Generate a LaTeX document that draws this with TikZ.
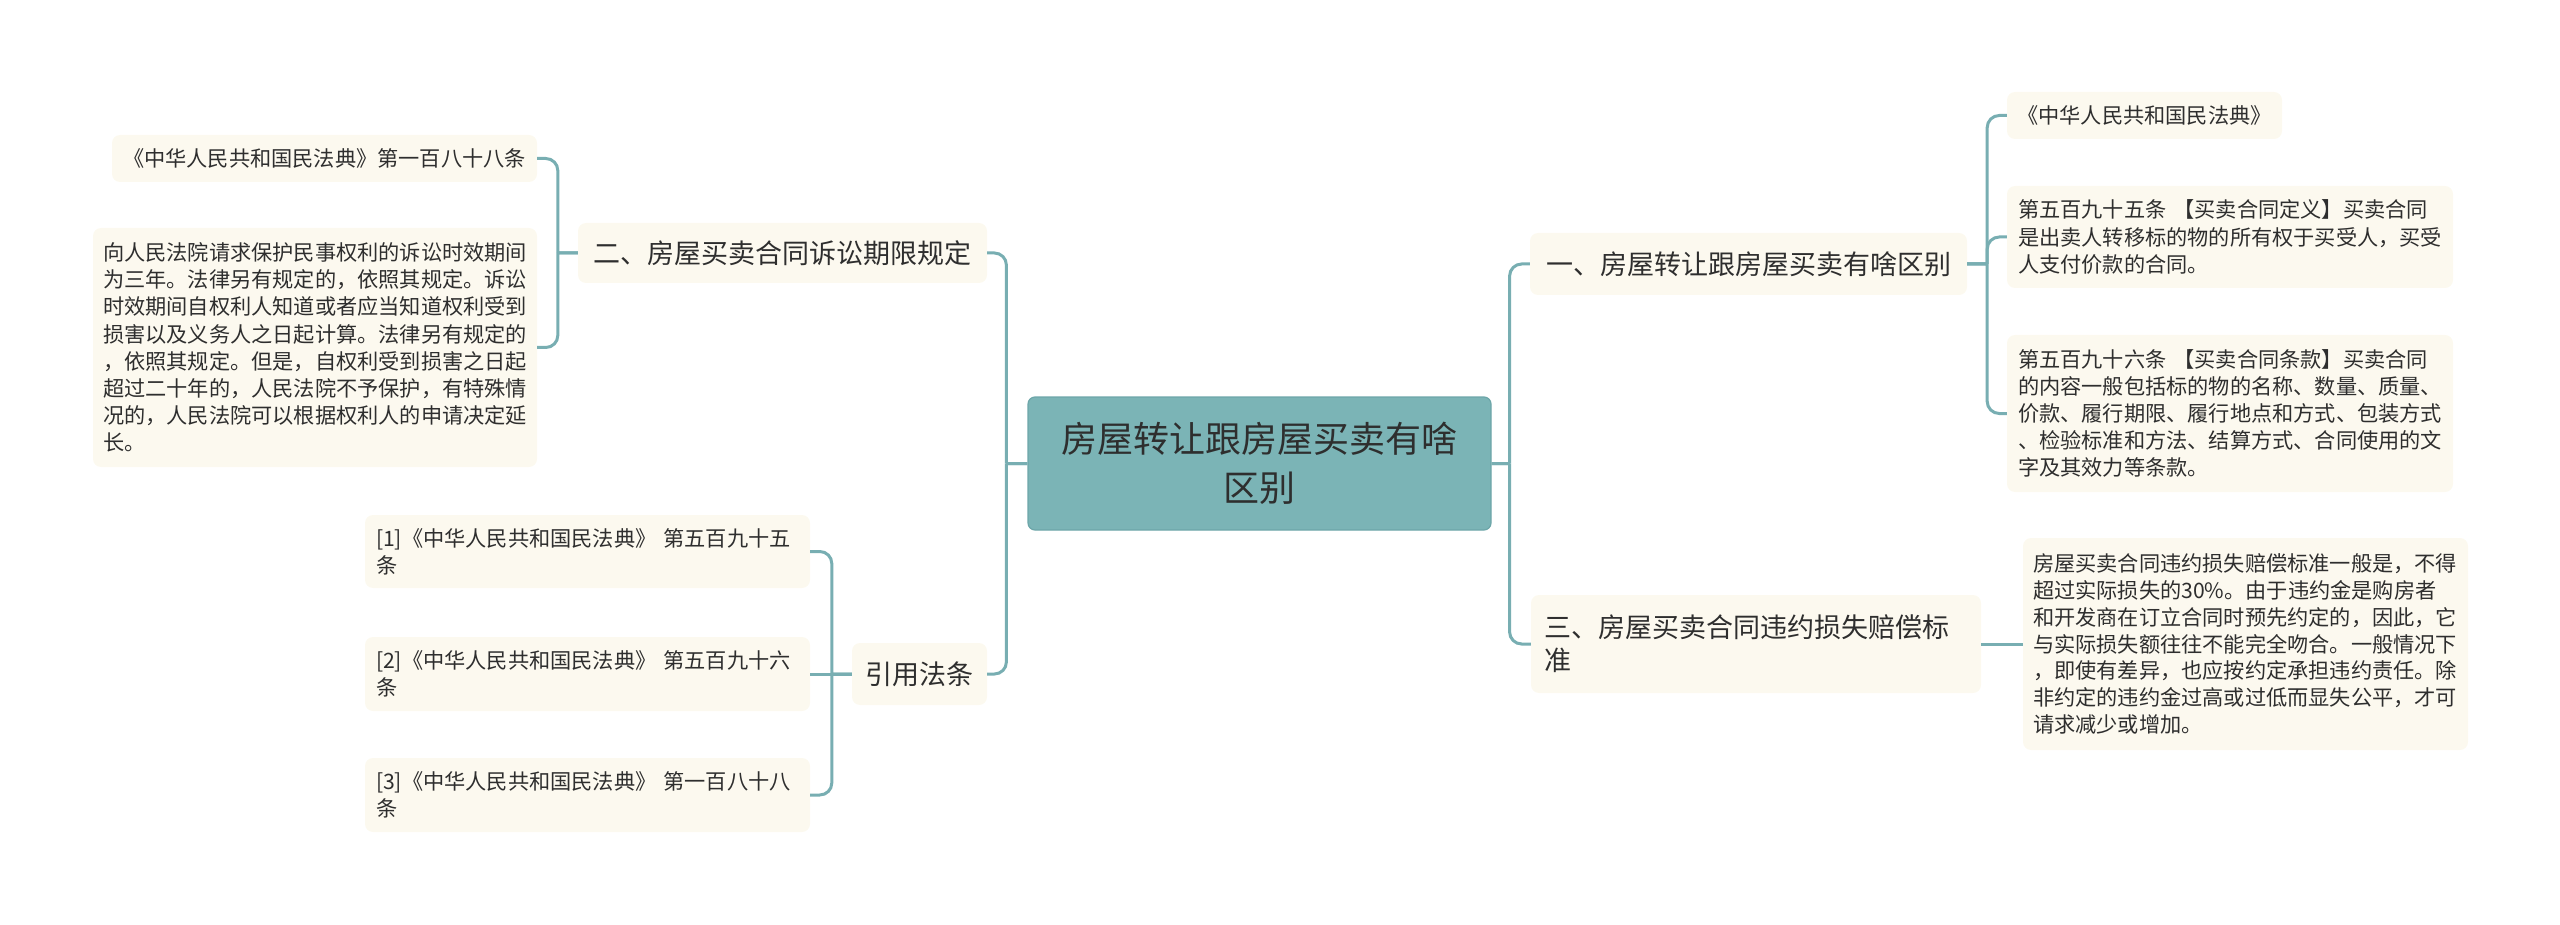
\documentclass[tikz,border=0pt]{standalone}
\usepackage{fontspec}
\setmainfont{Noto Sans CJK SC}
\definecolor{conncol}{HTML}{78AEB2}
\definecolor{rootfill}{HTML}{7BB4B6}
\definecolor{rootdraw}{HTML}{6DA6A9}
\definecolor{leafbg}{HTML}{FCF9EF}
\definecolor{txt}{HTML}{2E2E2E}
\tikzset{
  conn/.style={draw=conncol, line width=3pt},
  rootbox/.style={fill=rootfill, draw=rootdraw, line width=1.2pt, rounded corners=7pt, align=center, text=txt,
     font=\fontsize{36}{49}\selectfont, inner sep=0pt},
  mainbox/.style={fill=leafbg, rounded corners=8pt, text=txt, inner sep=0pt,
     font=\fontsize{27}{33}\selectfont},
  leafbox/.style={fill=leafbg, rounded corners=8pt, text=txt, inner ysep=0pt, align=left,
     font=\fontsize{21.2}{27.2}\selectfont},
}
\begin{document}
\begin{tikzpicture}[x=1pt,y=-1pt]
\useasboundingbox (0,0) rectangle (2560,925);

% root
\node[rootbox, minimum width=463pt, minimum height=133pt] (C) at (1259.5,463.5)
  {房屋转让跟房屋买卖有啥\\区别};

% level 1
\node[mainbox, minimum width=409pt, minimum height=60pt] (L1) at (782.5,253) {二、房屋买卖合同诉讼期限规定};
\node[mainbox, minimum width=135pt, minimum height=62pt] (L2) at (919.5,674) {引用法条};
\node[mainbox, minimum width=437pt, minimum height=62pt] (R1) at (1748.5,264) {一、房屋转让跟房屋买卖有啥区别};
\node[mainbox, minimum width=450pt, minimum height=98pt, inner xsep=13pt, text width=424pt, align=left] (R2) at (1756,644)
  {三、房屋买卖合同违约损失赔偿标\\准};

% leaves of L1
\node[leafbox, minimum width=425pt, minimum height=47pt, inner xsep=0pt, align=center] (L1a) at (324.5,158.5)
  {《中华人民共和国民法典》第一百八十八条};
\node[leafbox, minimum width=444pt, minimum height=239pt, inner xsep=10pt, text width=424pt] (L1b) at (315,347.5)
  {向人民法院请求保护民事权利的诉讼时效期间\\
   为三年。法律另有规定的，依照其规定。诉讼\\
   时效期间自权利人知道或者应当知道权利受到\\
   损害以及义务人之日起计算。法律另有规定的\\
   ，依照其规定。但是，自权利受到损害之日起\\
   超过二十年的，人民法院不予保护，有特殊情\\
   况的，人民法院可以根据权利人的申请决定延\\
   长。};

% leaves of L2
\node[leafbox, minimum width=445pt, minimum height=73pt, inner xsep=11pt, text width=423pt] (L2a) at (587.5,551.5)
  {[1]《中华人民共和国民法典》 第五百九十五\\条};
\node[leafbox, minimum width=445pt, minimum height=74pt, inner xsep=11pt, text width=423pt] (L2b) at (587.5,674)
  {[2]《中华人民共和国民法典》 第五百九十六\\条};
\node[leafbox, minimum width=445pt, minimum height=74pt, inner xsep=11pt, text width=423pt] (L2c) at (587.5,795)
  {[3]《中华人民共和国民法典》 第一百八十八\\条};

% leaves of R1
\node[leafbox, minimum width=275pt, minimum height=47pt, inner xsep=0pt, align=center] (R1a) at (2144.5,115.5)
  {《中华人民共和国民法典》};
\node[leafbox, minimum width=446pt, minimum height=102pt, inner xsep=11pt, text width=424pt] (R1b) at (2230,237)
  {第五百九十五条 【买卖合同定义】买卖合同\\
   是出卖人转移标的物的所有权于买受人，买受\\
   人支付价款的合同。};
\node[leafbox, minimum width=446pt, minimum height=157pt, inner xsep=11pt, text width=424pt] (R1c) at (2230,413.5)
  {第五百九十六条 【买卖合同条款】买卖合同\\
   的内容一般包括标的物的名称、数量、质量、\\
   价款、履行期限、履行地点和方式、包装方式\\
   、检验标准和方法、结算方式、合同使用的文\\
   字及其效力等条款。};

% leaf of R2
\node[leafbox, minimum width=445pt, minimum height=212pt, inner xsep=10pt, text width=425pt,
      font=\fontsize{21.2}{26.7}\selectfont] (R2a) at (2245.5,644)
  {房屋买卖合同违约损失赔偿标准一般是，不得\\
   超过实际损失的30\%。由于违约金是购房者\\
   和开发商在订立合同时预先约定的，因此，它\\
   与实际损失额往往不能完全吻合。一般情况下\\
   ，即使有差异，也应按约定承担违约责任。除\\
   非约定的违约金过高或过低而显失公平，才可\\
   请求减少或增加。};

% connectors root
\draw[conn] (C.west) -- ++(-21,0) ++(0,0) [rounded corners=12] |- (L1.east);
\draw[conn] (C.west) -- ++(-21,0) ++(0,0) [rounded corners=12] |- (L2.east);
\draw[conn] (C.east) -- ++(18,0) ++(0,0) [rounded corners=12] |- (R1.west);
\draw[conn] (C.east) -- ++(18,0) ++(0,0) [rounded corners=12] |- (R2.west);

% connectors L1
\draw[conn] (L1.west) -- ++(-20,0) ++(0,0) [rounded corners=12] |- (L1a.east);
\draw[conn] (L1.west) -- ++(-20,0) ++(0,0) [rounded corners=12] |- (L1b.east);
% connectors L2
\draw[conn] (L2.west) -- ++(-20,0) ++(0,0) [rounded corners=12] |- (L2a.east);
\draw[conn] (L2.west) -- (L2b.east);
\draw[conn] (L2.west) -- ++(-20,0) ++(0,0) [rounded corners=12] |- (L2c.east);
% connectors R1
\draw[conn] (R1.east) -- ++(20,0) ++(0,0) [rounded corners=12] |- (R1a.west);
\draw[conn] (R1.east) -- ++(20,0) ++(0,0) [rounded corners=12] |- (R1b.west);
\draw[conn] (R1.east) -- ++(20,0) ++(0,0) [rounded corners=12] |- (R1c.west);
% connector R2
\draw[conn] (R2.east) -- (R2a.west);
\end{tikzpicture}
\end{document}
